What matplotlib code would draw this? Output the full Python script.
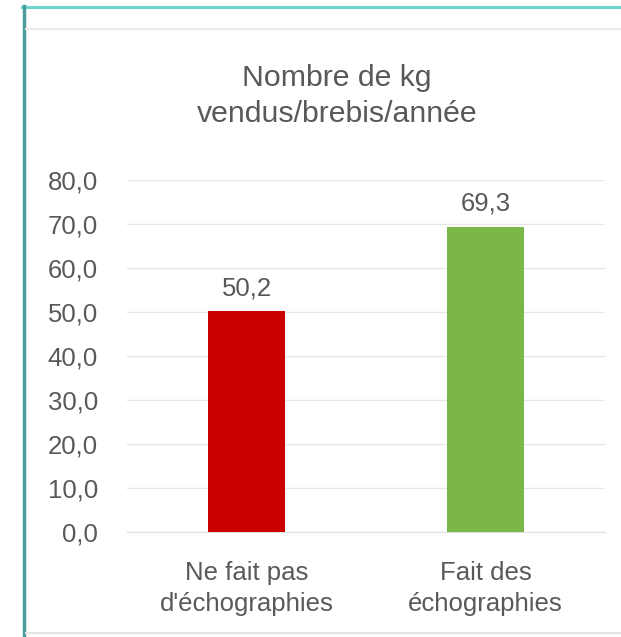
import matplotlib
matplotlib.use("Agg")
import matplotlib.pyplot as plt
from matplotlib.lines import Line2D

categories = ["Ne fait pas\nd'échographies", "Fait des\néchographies"]
values = [50.2, 69.3]
colors = ["#cc0000", "#7ab648"]
yticks = [0, 10, 20, 30, 40, 50, 60, 70, 80]
title = "Nombre de kg\nvendus/brebis/année"

W, H = 621, 637
fig = plt.figure(figsize=(W / 100, H / 100), dpi=100)
plt.rcParams['font.family'] = ['Liberation Sans', 'DejaVu Sans']
txt = "#595959"

# axes: x 127..605, y 180 (80) .. 532 (0)
ax = fig.add_axes([127 / W, 1 - 532 / H, (605 - 127) / W, (532 - 180) / H])
x = list(range(len(categories)))
bars = ax.bar(x, values, width=0.32, color=colors, zorder=3)
ax.set_xlim(-0.5, 1.5)
ax.set_ylim(0, 80)
ax.set_yticks(yticks)
ax.set_yticklabels([f"{v:.1f}".replace(".", ",") for v in yticks])
ax.set_xticks(x)
ax.set_xticklabels(categories)
ax.grid(axis="y", color="#e6e6e6", linewidth=1, zorder=0)
for s in ["top", "right", "left"]:
    ax.spines[s].set_visible(False)
ax.spines["bottom"].set_color("#e0e0e0")
ax.tick_params(axis="both", length=0, labelsize=18.5, colors=txt)
ax.tick_params(axis="y", pad=21)
ax.tick_params(axis="x", pad=21)
for lbl in ax.get_xticklabels():
    lbl.set_linespacing(1.35)
for b, v in zip(bars, values):
    ax.annotate(f"{v:.1f}".replace(".", ","), (b.get_x() + b.get_width() / 2, v),
                xytext=(0, 8), textcoords="offset points", ha="center", va="bottom",
                fontsize=18.5, color=txt)

fig.text(337 / W, 1 - 96 / H, title, ha="center", va="center", fontsize=21.8,
         color=txt, linespacing=1.33)

# frame decorations
fig.add_artist(Line2D([22 / W, 1], [1 - 6.5 / H, 1 - 6.5 / H], color="#72d6cf", linewidth=2.2))
fig.add_artist(Line2D([23.5 / W, 23.5 / W], [0, 1 - 6 / H], color="#4a9e99", linewidth=2.5))
fig.add_artist(Line2D([26 / W, 1], [1 - 29 / H, 1 - 29 / H], color="#ececec", linewidth=1.5))
fig.add_artist(Line2D([26 / W, 1], [1 - 633 / H, 1 - 633 / H], color="#e4e4e4", linewidth=1.5))

fig.savefig("out.png", dpi=100)
